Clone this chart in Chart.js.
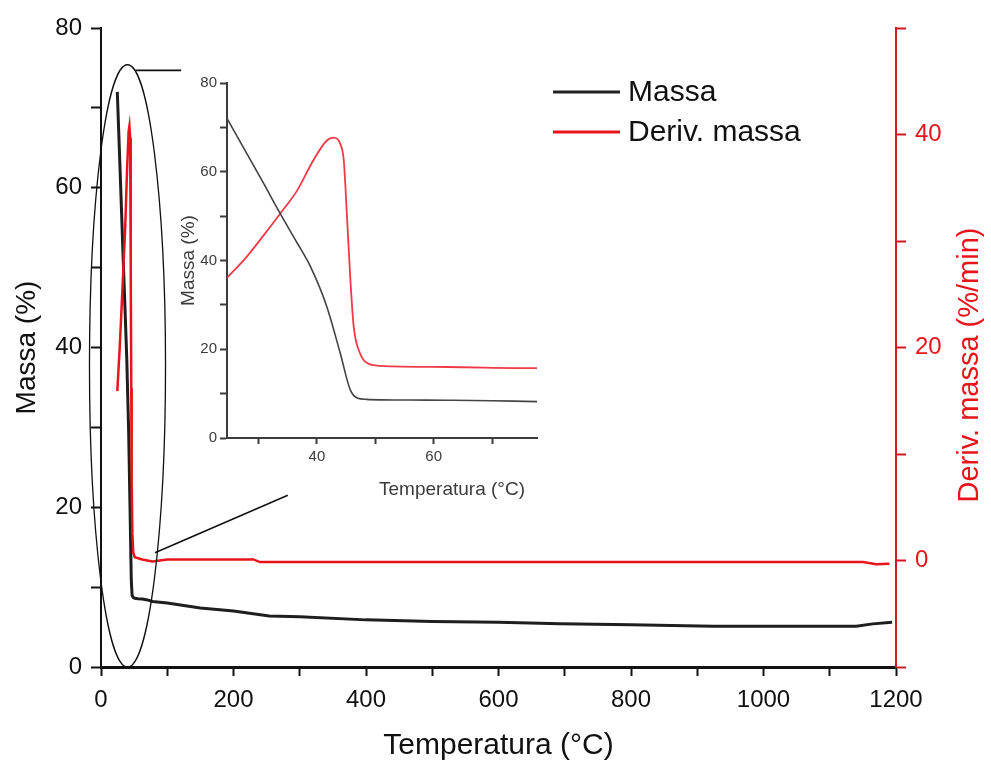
<!DOCTYPE html>
<html>
<head>
<meta charset="utf-8">
<script src="https://cdn.jsdelivr.net/npm/chart.js@4.4.1/dist/chart.umd.min.js"></script>
<style>
  html, body { margin: 0; padding: 0; background: #fff; }
  #wrap { position: relative; width: 991px; height: 765px; }
  #chart { position: absolute; left: 0; top: 0; }
  #inset { position: absolute; left: 170px; top: 70px; }
</style>
</head>
<body>
<div id="wrap">
  <canvas id="chart" width="991" height="765"></canvas>
  <canvas id="inset" width="380" height="440"></canvas>
</div>
<script>
// mass loss curve (°C, %)
const massaTemp = [24.6, 28.0, 30.9, 33.7, 36.6, 38.9, 41.7, 44.0, 45.7, 46.9, 48.5, 50.9, 56, 62.3, 70, 77.7,
                   100, 150, 200, 254, 300, 400, 500, 600, 693, 800, 924, 1000, 1140, 1165, 1194];
const massa = [72.0, 64.1, 57.3, 50.6, 44.0, 38.6, 29.6, 19.1, 10.9, 9.0, 8.7, 8.6, 8.55, 8.5, 8.4, 8.2,
               8.0, 7.4, 7.0, 6.4, 6.3, 5.9, 5.7, 5.6, 5.4, 5.3, 5.1, 5.1, 5.1, 5.4, 5.6];

// derivative curve (°C, %/min)
const derivTemp = [24.6, 28.0, 30.9, 33.7, 36.6, 39.4, 41.7, 42.9, 44.0, 44.6, 45.1, 45.7, 46.3, 47.4, 48.6, 50.9, 62.3, 77.7,
                   100, 150, 230, 240, 400, 600, 800, 1000, 1150, 1170, 1190];
const deriv = [15.9, 19.7, 23.5, 27.3, 31.4, 36.8, 40.3, 40.8, 39.7, 36.8, 27.9, 16.2, 7.3, 2.5, 0.8, 0.3, 0.1, -0.1,
               0.1, 0.1, 0.1, -0.15, -0.15, -0.15, -0.15, -0.15, -0.15, -0.35, -0.3];

const seriesNames = ['Massa', 'Deriv. massa'];
const xTitle = 'Temperatura (°C)';
const yTitle = 'Massa (%)';
const y2Title = 'Deriv. massa (%/min)';
const insetXTicks = [30, 40, 50, 60, 70];

const F = "'Liberation Sans', Arial, sans-serif";
const INK = '#111';
const RED = '#e8141c';
const RED_AXIS = '#cc1a22';

const pts = (xs, ys) => xs.map((x, i) => ({ x: x, y: ys[i] }));

const extras = {
  id: 'extras',
  afterDraw(chart) {
    const ctx = chart.ctx;
    const x = chart.scales.x, y = chart.scales.y;
    ctx.save();
    // zoom ellipse around the main step
    ctx.strokeStyle = '#111';
    ctx.lineWidth = 1.3;
    const cx = x.getPixelForValue(40), cy = y.getPixelForValue(37.7);
    const rx = x.getPixelForValue(40 + 57.4) - cx;
    const ry = cy - y.getPixelForValue(37.7 + 37.7);
    ctx.beginPath();
    ctx.ellipse(cx, cy, rx, ry, 0, 0, Math.PI * 2);
    ctx.stroke();
    // connector lines to inset
    const links = [[[52, 74.7], [121, 74.7]], [[81.5, 14.3], [282, 21.5]]];
    ctx.lineWidth = 1.6;
    links.forEach(l => {
      ctx.beginPath();
      ctx.moveTo(x.getPixelForValue(l[0][0]), y.getPixelForValue(l[0][1]));
      ctx.lineTo(x.getPixelForValue(l[1][0]), y.getPixelForValue(l[1][1]));
      ctx.stroke();
    });
    // legend
    const cols = ['#222', RED];
    ctx.font = '30px ' + F;
    ctx.textBaseline = 'middle';
    ctx.textAlign = 'left';
    seriesNames.forEach((name, i) => {
      const ly = 92 + i * 40;
      ctx.strokeStyle = cols[i];
      ctx.lineWidth = 3;
      ctx.beginPath();
      ctx.moveTo(553, ly);
      ctx.lineTo(620, ly);
      ctx.stroke();
      ctx.fillStyle = INK;
      ctx.fillText(name, 628, ly + 1);
    });
    // right axis title, reading bottom to top
    ctx.translate(970, 365);
    ctx.rotate(-Math.PI / 2);
    ctx.textAlign = 'center';
    ctx.fillStyle = RED;
    ctx.font = '29px ' + F;
    ctx.fillText(y2Title, 0, 0);
    ctx.restore();
  }
};

new Chart(document.getElementById('chart'), {
  type: 'line',
  data: {
    datasets: [
      { label: seriesNames[0], data: pts(massaTemp, massa), yAxisID: 'y', borderColor: '#1e1e1e',
        borderWidth: 3, pointRadius: 0, tension: 0, order: 1 },
      { label: seriesNames[1], data: pts(derivTemp, deriv), yAxisID: 'y2', borderColor: RED,
        borderWidth: 2.5, pointRadius: 0, tension: 0, order: 0 }
    ]
  },
  options: {
    responsive: false,
    animation: false,
    layout: { padding: { top: 28, left: 0, right: 0, bottom: 0 } },
    plugins: { legend: { display: false }, tooltip: { enabled: false } },
    scales: {
      x: {
        type: 'linear', min: 0, max: 1200,
        ticks: { stepSize: 100, autoSkip: false, maxRotation: 0, padding: 10, color: INK,
                 font: { size: 24, family: F }, callback: v => v % 200 === 0 ? v : '' },
        grid: { drawOnChartArea: false, drawTicks: true, tickLength: 9, tickColor: INK, tickWidth: 2 },
        border: { display: true, color: INK, width: 3 },
        title: { display: true, text: xTitle, color: INK, font: { size: 30, family: F }, padding: { top: 0, bottom: 1 } },
        afterFit: s => { s.height = 98; }
      },
      y: {
        position: 'left', min: 0, max: 80,
        ticks: { stepSize: 10, padding: 9, color: INK, font: { size: 24, family: F },
                 callback: v => v % 20 === 0 ? v : '' },
        grid: { drawOnChartArea: false, drawTicks: true, tickLength: 10, tickColor: INK, tickWidth: 2 },
        border: { display: true, color: INK, width: 2 },
        title: { display: true, text: yTitle, color: INK, font: { size: 28, family: F }, padding: { top: 10, bottom: 0 } },
        afterFit: s => { s.width = 101; }
      },
      y2: {
        position: 'right', min: -10, max: 50,
        ticks: { stepSize: 10, padding: 9, color: RED, font: { size: 24, family: F },
                 callback: v => (v >= 0 && v <= 40 && v % 20 === 0) ? v : '' },
        grid: { drawOnChartArea: false, drawTicks: true, tickLength: 10, tickColor: RED_AXIS, tickWidth: 2 },
        border: { display: true, color: RED_AXIS, width: 2 },
        afterFit: s => { s.width = 95; }
      }
    }
  },
  plugins: [extras]
});

// inset: zoom on 25-78 °C
const GREY = '#3c3c3c';
const insetTitle = {
  id: 'insetTitle',
  afterDraw(chart) {
    const ctx = chart.ctx;
    ctx.save();
    ctx.fillStyle = GREY;
    ctx.font = '19px ' + F;
    ctx.textAlign = 'center';
    ctx.textBaseline = 'middle';
    ctx.fillText(xTitle, 282, 420);
    ctx.restore();
  }
};

new Chart(document.getElementById('inset'), {
  type: 'line',
  data: {
    datasets: [
      { label: seriesNames[0], data: pts(massaTemp, massa), yAxisID: 'y', borderColor: '#444',
        borderWidth: 1.6, pointRadius: 0, cubicInterpolationMode: 'monotone' },
      { label: seriesNames[1], data: pts(derivTemp, deriv), yAxisID: 'y2', borderColor: '#ee3b47',
        borderWidth: 1.8, pointRadius: 0, cubicInterpolationMode: 'monotone' }
    ]
  },
  options: {
    responsive: false,
    animation: false,
    layout: { padding: { top: 13, right: 13, left: 0, bottom: 0 } },
    plugins: { legend: { display: false }, tooltip: { enabled: false } },
    scales: {
      x: {
        type: 'linear', min: 24.6, max: 77.7,
        afterBuildTicks: s => { s.ticks = insetXTicks.map(v => ({ value: v })); },
        ticks: { autoSkip: false, maxRotation: 0, padding: 4, color: GREY, font: { size: 15, family: F },
                 callback: v => v % 20 === 0 ? v : '' },
        grid: { drawOnChartArea: false, drawTicks: true, tickLength: 6, tickColor: GREY, tickWidth: 2 },
        border: { display: true, color: GREY, width: 2 },
        afterFit: s => { s.height = 72; }
      },
      y: {
        position: 'left', min: 0, max: 80,
        ticks: { stepSize: 10, padding: 3, color: GREY, font: { size: 15, family: F },
                 callback: v => v % 20 === 0 ? v : '' },
        grid: { drawOnChartArea: false, drawTicks: true, tickLength: 7, tickColor: GREY, tickWidth: 2 },
        border: { display: true, color: GREY, width: 2 },
        title: { display: true, text: yTitle, color: GREY, font: { size: 19, family: F }, padding: { top: 7, bottom: 0 } },
        afterFit: s => { s.width = 57; }
      },
      y2: { position: 'right', display: false, min: -12.5, max: 50.5 }
    }
  },
  plugins: [insetTitle]
});
</script>
</body>
</html>
